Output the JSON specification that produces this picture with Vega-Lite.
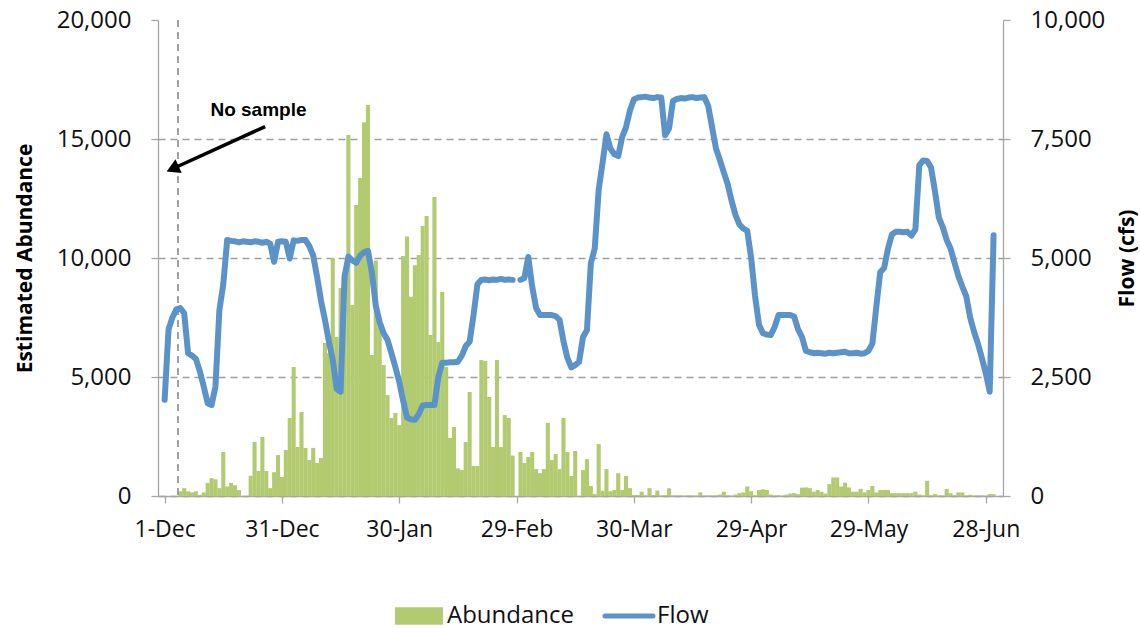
{
"$schema": "https://vega.github.io/schema/vega-lite/v6.json",
"width": 845, "height": 476,
"autosize": {"type": "none"},
"padding": {"left": 158, "top": 20, "right": 137, "bottom": 132},
"background": "white",
"config": {"view": {"stroke": null}},
"datasets": {"daily": [
{"date":"2011-12-01","abundance":null,"flow":2020},{"date":"2011-12-02","abundance":null,"flow":3500},{"date":"2011-12-03","abundance":null,"flow":3750},{"date":"2011-12-04","abundance":null,"flow":3920},{"date":"2011-12-05","abundance":200,"flow":3950},{"date":"2011-12-06","abundance":330,"flow":3840},{"date":"2011-12-07","abundance":200,"flow":3000},{"date":"2011-12-08","abundance":150,"flow":2950},{"date":"2011-12-09","abundance":200,"flow":2880},{"date":"2011-12-10","abundance":50,"flow":2620},
{"date":"2011-12-11","abundance":150,"flow":2300},{"date":"2011-12-12","abundance":550,"flow":1950},{"date":"2011-12-13","abundance":750,"flow":1910},{"date":"2011-12-14","abundance":700,"flow":2300},{"date":"2011-12-15","abundance":330,"flow":3900},{"date":"2011-12-16","abundance":1850,"flow":4450},{"date":"2011-12-17","abundance":400,"flow":5380},{"date":"2011-12-18","abundance":550,"flow":5360},{"date":"2011-12-19","abundance":450,"flow":5350},{"date":"2011-12-20","abundance":250,"flow":5330},
{"date":"2011-12-21","abundance":0,"flow":5350},{"date":"2011-12-22","abundance":0,"flow":5340},{"date":"2011-12-23","abundance":850,"flow":5330},{"date":"2011-12-24","abundance":2270,"flow":5350},{"date":"2011-12-25","abundance":1050,"flow":5340},{"date":"2011-12-26","abundance":2480,"flow":5320},{"date":"2011-12-27","abundance":1050,"flow":5340},{"date":"2011-12-28","abundance":330,"flow":5300},{"date":"2011-12-29","abundance":1000,"flow":4920},{"date":"2011-12-30","abundance":1720,"flow":5340},
{"date":"2011-12-31","abundance":800,"flow":5350},{"date":"2012-01-01","abundance":1930,"flow":5340},{"date":"2012-01-02","abundance":3280,"flow":4990},{"date":"2012-01-03","abundance":5420,"flow":5370},{"date":"2012-01-04","abundance":2060,"flow":5360},{"date":"2012-01-05","abundance":3530,"flow":5380},{"date":"2012-01-06","abundance":2020,"flow":5380},{"date":"2012-01-07","abundance":1510,"flow":5250},{"date":"2012-01-08","abundance":2020,"flow":5050},{"date":"2012-01-09","abundance":1390,"flow":4600},
{"date":"2012-01-10","abundance":1600,"flow":4100},{"date":"2012-01-11","abundance":6430,"flow":3700},{"date":"2012-01-12","abundance":6000,"flow":3250},{"date":"2012-01-13","abundance":10000,"flow":2860},{"date":"2012-01-14","abundance":6680,"flow":2250},{"date":"2012-01-15","abundance":8740,"flow":2190},{"date":"2012-01-16","abundance":8000,"flow":4600},{"date":"2012-01-17","abundance":15170,"flow":5030},{"date":"2012-01-18","abundance":8030,"flow":4950},{"date":"2012-01-19","abundance":12230,"flow":4900},
{"date":"2012-01-20","abundance":13360,"flow":5050},{"date":"2012-01-21","abundance":15700,"flow":5120},{"date":"2012-01-22","abundance":16430,"flow":5150},{"date":"2012-01-23","abundance":5920,"flow":4700},{"date":"2012-01-24","abundance":9900,"flow":4000},{"date":"2012-01-25","abundance":7500,"flow":3650},{"date":"2012-01-26","abundance":5500,"flow":3420},{"date":"2012-01-27","abundance":4240,"flow":3280},{"date":"2012-01-28","abundance":3280,"flow":3000},{"date":"2012-01-29","abundance":3490,"flow":2710},
{"date":"2012-01-30","abundance":2980,"flow":2400},{"date":"2012-01-31","abundance":10080,"flow":2000},{"date":"2012-02-01","abundance":10900,"flow":1650},{"date":"2012-02-02","abundance":8370,"flow":1610},{"date":"2012-02-03","abundance":9700,"flow":1600},{"date":"2012-02-04","abundance":10130,"flow":1720},{"date":"2012-02-05","abundance":11340,"flow":1900},{"date":"2012-02-06","abundance":11760,"flow":1910},{"date":"2012-02-07","abundance":6760,"flow":1910},{"date":"2012-02-08","abundance":12560,"flow":1910},
{"date":"2012-02-09","abundance":6470,"flow":2500},{"date":"2012-02-10","abundance":8570,"flow":2800},{"date":"2012-02-11","abundance":5420,"flow":2800},{"date":"2012-02-12","abundance":2440,"flow":2810},{"date":"2012-02-13","abundance":2900,"flow":2810},{"date":"2012-02-14","abundance":1160,"flow":2820},{"date":"2012-02-15","abundance":1100,"flow":2950},{"date":"2012-02-16","abundance":2270,"flow":3150},{"date":"2012-02-17","abundance":4370,"flow":3240},{"date":"2012-02-18","abundance":1260,"flow":3800},
{"date":"2012-02-19","abundance":1260,"flow":4450},{"date":"2012-02-20","abundance":5710,"flow":4540},{"date":"2012-02-21","abundance":5670,"flow":4550},{"date":"2012-02-22","abundance":4160,"flow":4530},{"date":"2012-02-23","abundance":2060,"flow":4550},{"date":"2012-02-24","abundance":5710,"flow":4540},{"date":"2012-02-25","abundance":2060,"flow":4560},{"date":"2012-02-26","abundance":3400,"flow":4540},{"date":"2012-02-27","abundance":3280,"flow":4550},{"date":"2012-02-28","abundance":1700,"flow":4540},
{"date":"2012-02-29","abundance":0,"flow":null},{"date":"2012-03-01","abundance":1850,"flow":4540},{"date":"2012-03-02","abundance":1390,"flow":4580},{"date":"2012-03-03","abundance":1640,"flow":5020},{"date":"2012-03-04","abundance":1850,"flow":4400},{"date":"2012-03-05","abundance":1130,"flow":3950},{"date":"2012-03-06","abundance":960,"flow":3800},{"date":"2012-03-07","abundance":1130,"flow":3800},{"date":"2012-03-08","abundance":3070,"flow":3800},{"date":"2012-03-09","abundance":1510,"flow":3800},
{"date":"2012-03-10","abundance":1760,"flow":3780},{"date":"2012-03-11","abundance":1130,"flow":3700},{"date":"2012-03-12","abundance":3280,"flow":3250},{"date":"2012-03-13","abundance":1850,"flow":2900},{"date":"2012-03-14","abundance":840,"flow":2700},{"date":"2012-03-15","abundance":1890,"flow":2750},{"date":"2012-03-16","abundance":0,"flow":2820},{"date":"2012-03-17","abundance":1090,"flow":3340},{"date":"2012-03-18","abundance":1550,"flow":3480},{"date":"2012-03-19","abundance":420,"flow":4890},
{"date":"2012-03-20","abundance":80,"flow":5200},{"date":"2012-03-21","abundance":2180,"flow":6430},{"date":"2012-03-22","abundance":220,"flow":7000},{"date":"2012-03-23","abundance":1130,"flow":7600},{"date":"2012-03-24","abundance":200,"flow":7300},{"date":"2012-03-25","abundance":250,"flow":7180},{"date":"2012-03-26","abundance":960,"flow":7140},{"date":"2012-03-27","abundance":250,"flow":7540},{"date":"2012-03-28","abundance":840,"flow":7750},{"date":"2012-03-29","abundance":330,"flow":8100},
{"date":"2012-03-30","abundance":40,"flow":8330},{"date":"2012-03-31","abundance":40,"flow":8370},{"date":"2012-04-01","abundance":180,"flow":8380},{"date":"2012-04-02","abundance":30,"flow":8390},{"date":"2012-04-03","abundance":330,"flow":8370},{"date":"2012-04-04","abundance":40,"flow":8360},{"date":"2012-04-05","abundance":230,"flow":8380},{"date":"2012-04-06","abundance":30,"flow":8370},{"date":"2012-04-07","abundance":40,"flow":7580},{"date":"2012-04-08","abundance":330,"flow":7720},
{"date":"2012-04-09","abundance":30,"flow":8300},{"date":"2012-04-10","abundance":20,"flow":8340},{"date":"2012-04-11","abundance":30,"flow":8360},{"date":"2012-04-12","abundance":20,"flow":8350},{"date":"2012-04-13","abundance":30,"flow":8370},{"date":"2012-04-14","abundance":20,"flow":8380},{"date":"2012-04-15","abundance":30,"flow":8360},{"date":"2012-04-16","abundance":150,"flow":8370},{"date":"2012-04-17","abundance":20,"flow":8380},{"date":"2012-04-18","abundance":30,"flow":8200},
{"date":"2012-04-19","abundance":20,"flow":7750},{"date":"2012-04-20","abundance":30,"flow":7300},{"date":"2012-04-21","abundance":60,"flow":7060},{"date":"2012-04-22","abundance":180,"flow":6800},{"date":"2012-04-23","abundance":30,"flow":6550},{"date":"2012-04-24","abundance":20,"flow":6200},{"date":"2012-04-25","abundance":60,"flow":5900},{"date":"2012-04-26","abundance":120,"flow":5700},{"date":"2012-04-27","abundance":150,"flow":5620},{"date":"2012-04-28","abundance":400,"flow":5570},
{"date":"2012-04-29","abundance":200,"flow":5000},{"date":"2012-04-30","abundance":30,"flow":4200},{"date":"2012-05-01","abundance":250,"flow":3600},{"date":"2012-05-02","abundance":280,"flow":3420},{"date":"2012-05-03","abundance":250,"flow":3390},{"date":"2012-05-04","abundance":60,"flow":3380},{"date":"2012-05-05","abundance":30,"flow":3550},{"date":"2012-05-06","abundance":40,"flow":3800},{"date":"2012-05-07","abundance":20,"flow":3800},{"date":"2012-05-08","abundance":60,"flow":3800},
{"date":"2012-05-09","abundance":100,"flow":3800},{"date":"2012-05-10","abundance":120,"flow":3770},{"date":"2012-05-11","abundance":80,"flow":3500},{"date":"2012-05-12","abundance":350,"flow":3340},{"date":"2012-05-13","abundance":360,"flow":3050},{"date":"2012-05-14","abundance":330,"flow":3020},{"date":"2012-05-15","abundance":180,"flow":3000},{"date":"2012-05-16","abundance":250,"flow":3010},{"date":"2012-05-17","abundance":180,"flow":3000},{"date":"2012-05-18","abundance":100,"flow":2990},
{"date":"2012-05-19","abundance":500,"flow":3010},{"date":"2012-05-20","abundance":780,"flow":3000},{"date":"2012-05-21","abundance":780,"flow":3010},{"date":"2012-05-22","abundance":400,"flow":3020},{"date":"2012-05-23","abundance":560,"flow":3030},{"date":"2012-05-24","abundance":360,"flow":3000},{"date":"2012-05-25","abundance":180,"flow":3000},{"date":"2012-05-26","abundance":180,"flow":3010},{"date":"2012-05-27","abundance":300,"flow":2990},{"date":"2012-05-28","abundance":150,"flow":3000},
{"date":"2012-05-29","abundance":250,"flow":3050},{"date":"2012-05-30","abundance":420,"flow":3200},{"date":"2012-05-31","abundance":150,"flow":3970},{"date":"2012-06-01","abundance":250,"flow":4700},{"date":"2012-06-02","abundance":250,"flow":4790},{"date":"2012-06-03","abundance":250,"flow":5200},{"date":"2012-06-04","abundance":120,"flow":5500},{"date":"2012-06-05","abundance":120,"flow":5550},{"date":"2012-06-06","abundance":120,"flow":5550},{"date":"2012-06-07","abundance":120,"flow":5540},
{"date":"2012-06-08","abundance":120,"flow":5550},{"date":"2012-06-09","abundance":120,"flow":5470},{"date":"2012-06-10","abundance":180,"flow":5600},{"date":"2012-06-11","abundance":60,"flow":6950},{"date":"2012-06-12","abundance":30,"flow":7050},{"date":"2012-06-13","abundance":640,"flow":7040},{"date":"2012-06-14","abundance":30,"flow":6900},{"date":"2012-06-15","abundance":80,"flow":6400},{"date":"2012-06-16","abundance":30,"flow":5850},{"date":"2012-06-17","abundance":20,"flow":5650},
{"date":"2012-06-18","abundance":300,"flow":5380},{"date":"2012-06-19","abundance":120,"flow":5200},{"date":"2012-06-20","abundance":40,"flow":4900},{"date":"2012-06-21","abundance":150,"flow":4620},{"date":"2012-06-22","abundance":150,"flow":4400},{"date":"2012-06-23","abundance":20,"flow":4200},{"date":"2012-06-24","abundance":50,"flow":3750},{"date":"2012-06-25","abundance":20,"flow":3450},{"date":"2012-06-26","abundance":20,"flow":3200},{"date":"2012-06-27","abundance":30,"flow":2900},
{"date":"2012-06-28","abundance":20,"flow":2580},{"date":"2012-06-29","abundance":80,"flow":2190},{"date":"2012-06-30","abundance":80,"flow":5480}
]},
"layer": [
 {"layer": [
  {"data": {"name": "daily"},
   "mark": {"type": "bar", "size": 4.1, "color": "#b3cb70"},
   "encoding": {
    "x": {"field": "date", "type": "temporal",
      "scale": {"type": "utc", "domain": [{"year": 2011, "month": 11, "date": 30, "hours": 14, "utc": true}, {"year": 2012, "month": 7, "date": 1, "hours": 3, "utc": true}]},
      "axis": {"title": null, "format": "%-d-%b", "grid": false, "labelOverlap": false, "labelFlush": false,
        "values": [{"year": 2011, "month": 12, "date": 1, "utc": true}, {"year": 2011, "month": 12, "date": 31, "utc": true}, {"year": 2012, "month": 1, "date": 30, "utc": true}, {"year": 2012, "month": 2, "date": 29, "utc": true}, {"year": 2012, "month": 3, "date": 30, "utc": true}, {"year": 2012, "month": 4, "date": 29, "utc": true}, {"year": 2012, "month": 5, "date": 29, "utc": true}, {"year": 2012, "month": 6, "date": 28, "utc": true}],
        "labelFont": "Open Sans", "labelFontSize": 23, "labelColor": "#111111", "labelPadding": 15,
        "tickSize": 7, "tickColor": "#a6a6a6", "domainColor": "#a6a6a6", "domainWidth": 1.3, "tickWidth": 1.3}},
    "y": {"field": "abundance", "type": "quantitative",
      "scale": {"domain": [0, 20000], "nice": false},
      "axis": {"title": "Estimated Abundance", "orient": "left", "values": [0, 5000, 10000, 15000, 20000], "format": ",.0f",
        "grid": true, "gridDash": [7, 5], "gridWidth": 1.3,
        "gridColor": {"condition": {"test": "datum.value >= 20000", "value": "transparent"}, "value": "#9e9e9e"},
        "labelFont": "Open Sans", "labelFontSize": 24, "labelColor": "#111111", "labelPadding": 20,
        "tickSize": 7, "tickColor": "#a6a6a6", "domainColor": "#a6a6a6", "domainWidth": 1.3, "tickWidth": 1.3,
        "titleFont": "Open Sans", "titleFontSize": 21, "titleFontWeight": "bold", "titleColor": "#000000", "titlePadding": 21}},
    "color": {"datum": "Abundance", "type": "nominal",
      "scale": {"domain": ["Abundance", "Flow"], "range": ["#b3cb70", "#5b93c8"]},
      "legend": {"title": null, "orient": "none", "legendX": 249, "legendY": 584, "direction": "horizontal", "padding": 0,
        "labelFont": "Open Sans", "labelFontSize": 24, "labelColor": "#111111", "labelOffset": 16, "columnPadding": 20, "labelLimit": 300,
        "symbolSize": 2300, "symbolStrokeWidth": 0,
        "encode": {"symbols": {"update": {
          "shape": {"signal": "datum.value === 'Flow' ? 'M-1,0L1,0' : 'M-1,-0.36L1,-0.36L1,0.36L-1,0.36Z'"},
          "fill": {"signal": "datum.value === 'Flow' ? 'transparent' : '#b3cb70'"},
          "stroke": {"signal": "datum.value === 'Flow' ? '#5b93c8' : 'transparent'"},
          "strokeWidth": {"signal": "datum.value === 'Flow' ? 5 : 0"},
          "strokeCap": {"value": "round"},
          "opacity": {"value": 1}}}}}}
   }},
  {"data": {"values": [{"date": "2011-12-04T10:00:00Z"}]},
   "mark": {"type": "rule", "color": "#8c8c8c", "strokeWidth": 1.6, "strokeDash": [7, 5]},
   "encoding": {"x": {"field": "date", "type": "temporal"}}},
  {"data": {"values": [{"date": "2011-12-26T17:00:00Z", "abundance": 15520, "date2": "2011-12-03T01:00:00Z", "abundance2": 13750}]},
   "mark": {"type": "rule", "color": "#000000", "strokeWidth": 3.5},
   "encoding": {"x": {"field": "date", "type": "temporal"}, "y": {"field": "abundance", "type": "quantitative"},
     "x2": {"field": "date2"}, "y2": {"field": "abundance2"}}},
  {"data": {"values": [{"date": "2011-12-03T01:00:00Z", "abundance": 13750}]},
   "mark": {"type": "point", "shape": "triangle-up", "filled": true, "color": "#000000", "size": 230, "angle": 246, "opacity": 1},
   "encoding": {"x": {"field": "date", "type": "temporal"}, "y": {"field": "abundance", "type": "quantitative"}}},
  {"data": {"values": [{"date": "2011-12-25T00:00:00Z", "abundance": 16220, "label": "No sample"}]},
   "mark": {"type": "text", "font": "Liberation Sans", "fontSize": 19, "fontWeight": "bold", "color": "#000000", "align": "center", "baseline": "middle"},
   "encoding": {"x": {"field": "date", "type": "temporal"}, "y": {"field": "abundance", "type": "quantitative"}, "text": {"field": "label"}}}
 ]},
 {"data": {"name": "daily"},
  "mark": {"type": "line", "color": "#5b93c8", "strokeWidth": 6, "strokeJoin": "round", "strokeCap": "round", "invalid": "break-paths-show-domains"},
  "encoding": {
   "x": {"field": "date", "type": "temporal"},
   "y": {"field": "flow", "type": "quantitative",
     "scale": {"domain": [0, 10000], "nice": false},
     "axis": {"title": "Flow (cfs)", "orient": "right", "values": [0, 2500, 5000, 7500, 10000], "format": ",.0f", "grid": false,
       "labelFont": "Open Sans", "labelFontSize": 24, "labelColor": "#111111", "labelPadding": 20,
       "tickSize": 7, "tickColor": "#a6a6a6", "domainColor": "#a6a6a6", "domainWidth": 1.3, "tickWidth": 1.3,
       "titleFont": "Open Sans", "titleFontSize": 21, "titleFontWeight": "bold", "titleColor": "#000000", "titlePadding": 12, "titleAngle": 270, "titleBaseline": "top"}},
   "color": {"datum": "Flow", "type": "nominal"}
  }}
],
"resolve": {"scale": {"y": "independent"}}
}
